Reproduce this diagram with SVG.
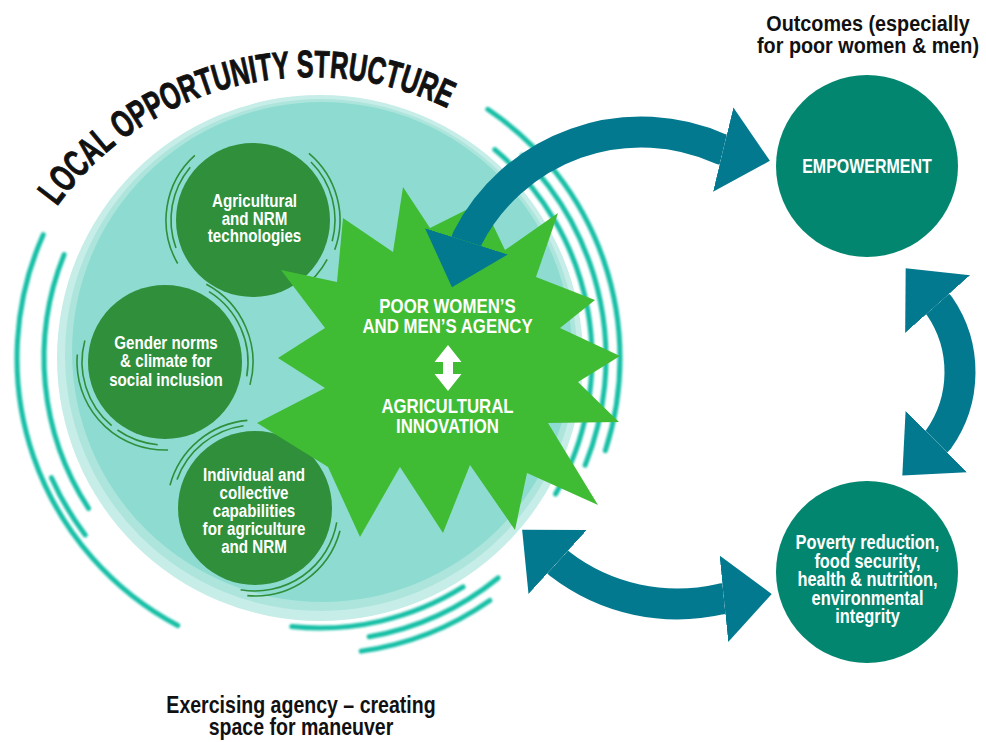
<svg xmlns="http://www.w3.org/2000/svg" width="986" height="742" viewBox="0 0 986 742">
<defs>
<style>
.lbl{font-family:"Liberation Sans",Arial,sans-serif;font-weight:700;fill:#fff;text-anchor:middle}
.dark{fill:#111}
.ring{fill:none;stroke:#17bfa6;stroke-width:5;stroke-linecap:round}
.thin{fill:none;stroke:#2f8f3a;stroke-width:1.6}
.node{fill:#2f8f3a}
.out{fill:#03866f}
.conn{fill:none;stroke:#03798f;stroke-width:31;stroke-linejoin:round}
</style>
<marker id="head" viewBox="0 -1.45 1.6 2.9" refX="0" refY="0" markerWidth="1.6" markerHeight="2.9" markerUnits="strokeWidth" orient="auto-start-reverse"><path d="M0,-1.4 L1.55,0 L0,1.4 Z" fill="#03798f"/></marker>
<filter id="soft" x="-10%" y="-10%" width="120%" height="120%"><feGaussianBlur stdDeviation="0.8"/></filter>
<path id="titlePath" d="M57,206.4 A314,314 0 0 1 468,119.1" fill="none"/>
</defs>
<rect width="986" height="742" fill="#fff"/>

<g id="outer-arcs" filter="url(#soft)">
<circle class="ring" cx="320" cy="358" r="303" pathLength="360" stroke-dasharray="86 400" transform="rotate(118 320 358)"/>
<circle class="ring" cx="320" cy="358" r="276" pathLength="360" stroke-dasharray="55 400" transform="rotate(147 320 358)"/>
<circle class="ring" cx="320" cy="358" r="294" pathLength="360" stroke-dasharray="13 400" transform="rotate(143 320 358)"/>
<circle class="ring" cx="320" cy="358" r="270" pathLength="360" stroke-dasharray="38 400" transform="rotate(58 320 358)"/>
<circle class="ring" cx="320" cy="358" r="283" pathLength="360" stroke-dasharray="29 400" transform="rotate(51 320 358)"/>
<circle class="ring" cx="320" cy="358" r="296" pathLength="360" stroke-dasharray="27 400" transform="rotate(55 320 358)"/>
<circle class="ring" cx="320" cy="358" r="272" pathLength="360" stroke-dasharray="80 400" transform="rotate(-50 320 358)"/>
<circle class="ring" cx="320" cy="358" r="286" pathLength="360" stroke-dasharray="67 400" transform="rotate(-45 320 358)"/>
<circle class="ring" cx="320" cy="358" r="300" pathLength="360" stroke-dasharray="74 400" transform="rotate(-56 320 358)"/>
</g>

<g id="opportunity-structure">
<circle cx="320" cy="358" r="263" fill="#c6ede7"/>
<circle cx="321" cy="355" r="256" fill="#ade5dd"/>
<circle cx="322" cy="352" r="250" fill="#8edcd1"/>
<text class="dark" font-family="Liberation Sans, Arial, sans-serif" font-weight="700" font-size="38" stroke="#111" stroke-width="0.9"><textPath href="#titlePath" textLength="437" lengthAdjust="spacingAndGlyphs">LOCAL OPPORTUNITY STRUCTURE</textPath></text>
</g>

<g id="node-technologies">
<circle class="node" cx="253" cy="220" r="77"/>
<circle class="thin" cx="253" cy="220" r="82" pathLength="360" stroke-dasharray="60 400" transform="rotate(160 253 220)"/>
<circle class="thin" cx="253" cy="220" r="87" pathLength="360" stroke-dasharray="78 400" transform="rotate(150 253 220)"/>
<circle class="thin" cx="253" cy="220" r="82" pathLength="360" stroke-dasharray="60 400" transform="rotate(-45 253 220)"/>
<circle class="thin" cx="253" cy="220" r="87" pathLength="360" stroke-dasharray="70 400" transform="rotate(-50 253 220)"/>
<circle class="thin" cx="253" cy="220" r="84" pathLength="360" stroke-dasharray="27 400" transform="rotate(28 253 220)"/>
<text class="lbl" font-size="18.5" transform="translate(254.5,0) scale(0.82,1)"><tspan x="0" y="207">Agricultural</tspan><tspan x="0" y="225">and NRM</tspan><tspan x="0" y="242">technologies</tspan></text>
</g>

<g id="node-gender">
<circle class="node" cx="165" cy="362" r="77"/>
<circle class="thin" cx="165" cy="362" r="83" pathLength="360" stroke-dasharray="65 400" transform="rotate(130 165 362)"/>
<circle class="thin" cx="165" cy="362" r="88" pathLength="360" stroke-dasharray="97 400" transform="rotate(88 165 362)"/>
<circle class="thin" cx="165" cy="362" r="83" pathLength="360" stroke-dasharray="30 400" transform="rotate(95 165 362)"/>
<circle class="thin" cx="165" cy="362" r="83" pathLength="360" stroke-dasharray="68 400" transform="rotate(-58 165 362)"/>
<circle class="thin" cx="165" cy="362" r="88" pathLength="360" stroke-dasharray="77 400" transform="rotate(-62 165 362)"/>
<text class="lbl" font-size="18.5" transform="translate(166,0) scale(0.82,1)"><tspan x="0" y="349">Gender norms</tspan><tspan x="0" y="367">&amp; climate for</tspan><tspan x="0" y="386">social inclusion</tspan></text>
</g>

<g id="node-capabilities">
<circle class="node" cx="255" cy="508" r="77"/>
<circle class="thin" cx="255" cy="508" r="83" pathLength="360" stroke-dasharray="62 400" transform="rotate(200 255 508)"/>
<circle class="thin" cx="255" cy="508" r="88" pathLength="360" stroke-dasharray="70 400" transform="rotate(195 255 508)"/>
<circle class="thin" cx="255" cy="508" r="83" pathLength="360" stroke-dasharray="90 400" transform="rotate(10 255 508)"/>
<circle class="thin" cx="255" cy="508" r="88" pathLength="360" stroke-dasharray="80 400" transform="rotate(15 255 508)"/>
<text class="lbl" font-size="18.5" transform="translate(254,0) scale(0.82,1)"><tspan x="0" y="481">Individual and</tspan><tspan x="0" y="499">collective</tspan><tspan x="0" y="517">capabilities</tspan><tspan x="0" y="535">for agriculture</tspan><tspan x="0" y="553">and NRM</tspan></text>
</g>

<g id="node-agency">
<polygon fill="#40bc34" points="343,218 393,252 403,187 430,228 482,202 505,250 558,213 536,277 595,300 560,328 620,356 578,382 619,422 548,423 598,505 527,473 515,530 470,465 443,533 400,467 360,537 328,467 257,423 325,388 278,358 325,328 281,270 337,282"/>
<text class="lbl" font-size="20.5" transform="translate(447.5,0) scale(0.82,1)"><tspan x="0" y="313">POOR WOMEN’S</tspan><tspan x="0" y="333">AND MEN’S AGENCY</tspan><tspan x="0" y="413">AGRICULTURAL</tspan><tspan x="0" y="433">INNOVATION</tspan></text>
<polygon fill="#fff" points="448,345 461.5,362 453,362 453,374 461.5,374 448,391 434.5,374 443,374 443,362 434.5,362"/>
</g>

<g id="node-empowerment">
<circle class="out" cx="867" cy="166" r="91"/>
<text class="lbl" font-size="19.5" transform="translate(867,0) scale(0.82,1)"><tspan x="0" y="173">EMPOWERMENT</tspan></text>
</g>

<g id="node-poverty">
<circle class="out" cx="867" cy="572" r="91"/>
<text class="lbl" font-size="20" transform="translate(867.5,0) scale(0.82,1)"><tspan x="0" y="549.5">Poverty reduction,</tspan><tspan x="0" y="568">food security,</tspan><tspan x="0" y="586.5">health &amp; nutrition,</tspan><tspan x="0" y="605">environmental</tspan><tspan x="0" y="623">integrity</tspan></text>
</g>

<g id="connectors">
<path class="conn" marker-start="url(#head)" marker-end="url(#head)" d="M466.4,241.35 L467.3,238.5 A195,195 0 0 1 720.3,148.9 L723.2,149.6"/>
<path class="conn" marker-start="url(#head)" marker-end="url(#head)" d="M937.6,304.05 L939.6,306.3 A116,116 0 0 1 938.4,439.4 L936.3,441.5"/>
<path class="conn" marker-start="url(#head)" marker-end="url(#head)" d="M557.7,562 L559.9,564 A192.7,192.7 0 0 0 720.9,599 L723.9,598.7"/>
</g>

<g id="captions">
<text class="lbl dark" font-size="22" transform="translate(868,0) scale(0.9,1)"><tspan x="0" y="31">Outcomes (especially</tspan><tspan x="0" y="53">for poor women &amp; men)</tspan></text>
<text class="lbl dark" font-size="23" transform="translate(301,0) scale(0.85,1)"><tspan x="0" y="713">Exercising agency – creating</tspan><tspan x="0" y="735">space for maneuver</tspan></text>
</g>
</svg>
